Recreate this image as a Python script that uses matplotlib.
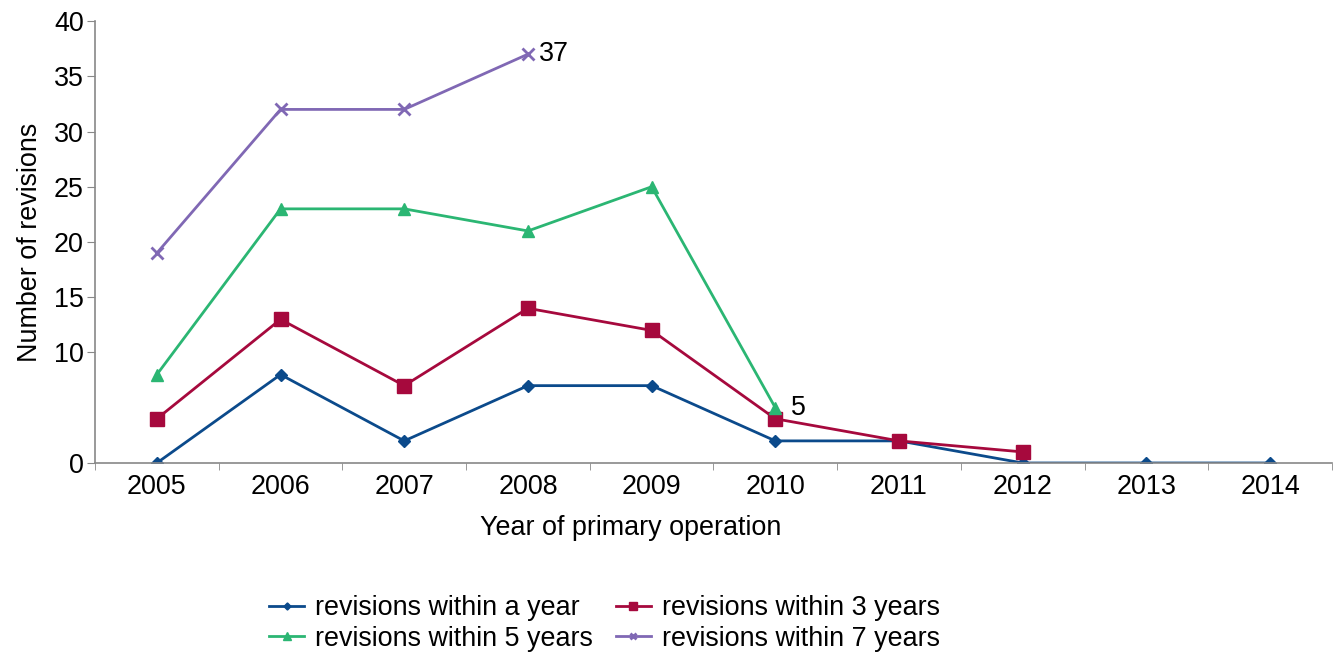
import matplotlib.pyplot as plt
import numpy as np

plt.rcParams['font.family'] = ['Liberation Sans', 'DejaVu Sans']

years = ['2005', '2006', '2007', '2008', '2009', '2010', '2011', '2012', '2013', '2014']
within_1 = [0, 8, 2, 7, 7, 2, 2, 0, 0, 0]
within_3 = [4, 13, 7, 14, 12, 4, 2, 1]
within_5 = [8, 23, 23, 21, 25, 5]
within_7 = [19, 32, 32, 37]
y_ticks = [0, 10, 15, 20, 25, 30, 35, 40]

fs = 19.4
fig = plt.figure(figsize=(13.36, 6.57), dpi=100)
ax = fig.add_axes([0.0711, 0.2953, 0.9259, 0.6727])

x = np.arange(len(years))
l1, = ax.plot(x[:len(within_1)], within_1, color='#0b4a8b', lw=2, marker='D', ms=6,
              label='revisions within a year')
l3, = ax.plot(x[:len(within_3)], within_3, color='#a6093d', lw=2, marker='s', ms=10,
              label='revisions within 3 years')
l5, = ax.plot(x[:len(within_5)], within_5, color='#2bb673', lw=2, marker='^', ms=9,
              label='revisions within 5 years')
l7, = ax.plot(x[:len(within_7)], within_7, color='#8068b4', lw=2, marker='x', ms=8, mew=2,
              label='revisions within 7 years')

# end labels
ax.annotate(str(within_7[-1]), (len(within_7) - 1, within_7[-1]), xytext=(8, 0),
            textcoords='offset points', va='center', fontsize=fs)
ax.annotate(str(within_5[-1]), (len(within_5) - 1, within_5[-1]), xytext=(11, 0),
            textcoords='offset points', va='center', fontsize=fs)

ax.set_xlim(-0.5, len(years) - 0.5)
ax.set_ylim(0, 40)
ax.set_xticks(x)
ax.set_xticklabels(years, fontsize=fs)
ax.set_xticks(np.arange(-0.5, len(years)), minor=True)
ax.tick_params(axis='x', which='major', length=0, pad=8)
ax.tick_params(axis='x', which='minor', length=5, color='#888888')
ax.set_yticks(y_ticks)
ax.tick_params(axis='y', labelsize=fs, length=6, color='#888888', pad=2)

for s in ['top', 'right']:
    ax.spines[s].set_visible(False)
for s in ['left', 'bottom']:
    ax.spines[s].set_color('#888888')
    ax.spines[s].set_linewidth(1.2)

fig.text(631 / 1336, 1 - 528 / 657, 'Year of primary operation', fontsize=fs,
         ha='center', va='center')
ax.set_ylabel('Number of revisions', fontsize=fs, labelpad=8)

fig.legend(handles=[l1, l5, l3, l7], ncol=2, loc='center', bbox_to_anchor=(0.4525, 0.051),
           frameon=False, fontsize=fs, handlelength=1.3, columnspacing=0.85,
           labelspacing=0.15, handletextpad=0.4, markerscale=0.6)

fig.savefig('out.png', dpi=100)
